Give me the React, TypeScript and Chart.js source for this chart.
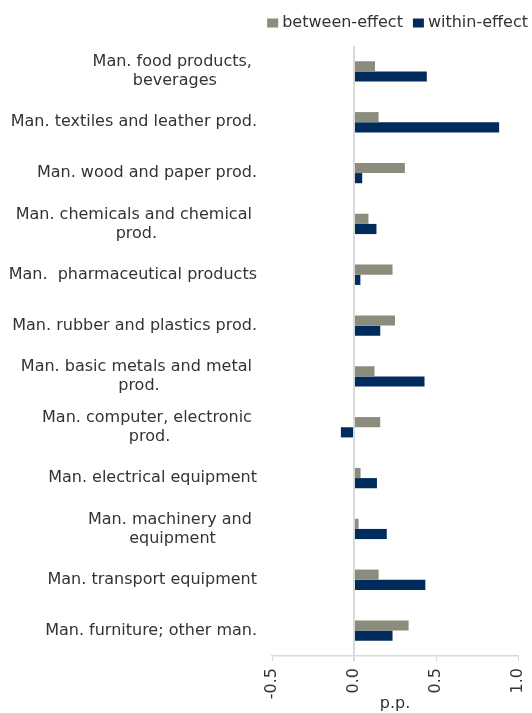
import { useEffect, useRef } from "react"
import Chart from "chart.js/auto"

// ── Data ─────────────────────────────────────────────────────
const CATEGORIES: string[][] = [
  ["Man. food products, ", "beverages"],
  ["Man. textiles and leather prod."],
  ["Man. wood and paper prod."],
  ["Man. chemicals and chemical ", "prod."],
  ["Man.  pharmaceutical products"],
  ["Man. rubber and plastics prod."],
  ["Man. basic metals and metal ", "prod."],
  ["Man. computer, electronic ", "prod."],
  ["Man. electrical equipment"],
  ["Man. machinery and ", "equipment"],
  ["Man. transport equipment"],
  ["Man. furniture; other man."],
]
const BETWEEN = [0.128, 0.15, 0.31, 0.088, 0.235, 0.25, 0.125, 0.16, 0.04, 0.028, 0.15, 0.333]
const WITHIN  = [0.444, 0.885, 0.05, 0.137, 0.039, 0.16, 0.43, -0.08, 0.14, 0.2, 0.435, 0.235]
const X_MIN = -0.5
const X_MAX = 1.0
const X_STEP = 0.5

// ── Style ────────────────────────────────────────────────────
const GREY  = "#8c8c7c"
const NAVY  = "#002c5d"
const TEXT  = "#333333"
const AXIS  = "#d9d9d9"
const FONT  = "'DejaVu Sans', Verdana, sans-serif"
const SIZE  = 16

// category labels: right-aligned block, lines centred within it (Excel-style wrap)
const yLabelPlugin = {
  id: "yLabels",
  afterDraw(chart: any) {
    const { ctx, chartArea } = chart
    const y = chart.scales.y
    ctx.save()
    ctx.font = `${SIZE}px ${FONT}`
    ctx.fillStyle = TEXT
    ctx.textAlign = "center"
    ctx.textBaseline = "middle"
    const right = chartArea.left - 15
    const lineH = 19
    CATEGORIES.forEach((lines, i) => {
      const cy = y.getPixelForValue(i)
      const block = Math.max(...lines.map(l => ctx.measureText(l).width))
      const top = cy - ((lines.length - 1) * lineH) / 2
      lines.forEach((l, j) => ctx.fillText(l, right - block / 2, top + j * lineH))
    })
    ctx.restore()
  },
}

// legend: top right, tight box/text spacing
const legendPlugin = {
  id: "tightLegend",
  afterDraw(chart: any) {
    const { ctx } = chart
    const items = chart.data.datasets.map((d: any) => ({ text: d.label, color: d.backgroundColor }))
    ctx.save()
    ctx.font = `${SIZE}px ${FONT}`
    ctx.textBaseline = "middle"
    ctx.textAlign = "left"
    let x = chart.width - 4
    const cy = 23
    for (let i = items.length - 1; i >= 0; i--) {
      const it = items[i]
      const w = ctx.measureText(it.text).width
      x -= w
      ctx.fillStyle = TEXT
      ctx.fillText(it.text, x, cy)
      x -= 4 + 11
      ctx.fillStyle = it.color
      ctx.fillRect(x, cy - 4.5, 11, 9)
      x -= 10
    }
    ctx.restore()
  },
}

export default function App() {
  const ref = useRef<HTMLCanvasElement>(null)

  useEffect(() => {
    document.body.style.margin = "0"
    if (!ref.current) return

    const chart = new Chart(ref.current, {
      type: "bar",
      data: {
        labels: CATEGORIES.map(c => c.join("")),
        datasets: [
          {
            label: "between-effect",
            data: BETWEEN,
            backgroundColor: GREY,
            borderWidth: 0,
            categoryPercentage: 0.4,
            barPercentage: 1,
          },
          {
            label: "within-effect",
            data: WITHIN,
            backgroundColor: NAVY,
            borderWidth: 0,
            categoryPercentage: 0.4,
            barPercentage: 1,
          },
        ],
      },
      options: {
        indexAxis: "y" as const,
        responsive: false,
        animation: false,
        layout: { padding: { top: 46, right: 4, left: 0, bottom: 0 } },
        plugins: {
          legend: { display: false },
          tooltip: { enabled: false },
        },
        scales: {
          x: {
            min: X_MIN,
            max: X_MAX,
            ticks: {
              stepSize: X_STEP,
              color: TEXT,
              font: { family: FONT, size: SIZE },
              minRotation: 90,
              maxRotation: 90,
              padding: 7,
              callback: (v: any) => Number(v).toFixed(1),
            },
            grid: {
              color: (c: any) => (c.tick && c.tick.value === 0 ? AXIS : "transparent"),
              lineWidth: (c: any) => (c.tick && c.tick.value === 0 ? 2 : 1),
              tickColor: AXIS,
              tickLength: 5,
            },
            border: { color: AXIS, width: 1.5 },
            title: {
              display: true,
              text: "p.p.",
              color: TEXT,
              font: { family: FONT, size: SIZE },
              padding: { top: 0, bottom: 0 },
            },
            afterFit: (s: any) => {
              s.height = 57
              s.paddingLeft = 0
              s.paddingRight = 14
            },
          },
          y: {
            ticks: { display: false },
            grid: { display: false },
            border: { display: false },
            afterFit: (s: any) => { s.width = 272 },
          },
        },
      },
      plugins: [yLabelPlugin, legendPlugin],
    })

    return () => chart.destroy()
  }, [])

  return (
    <div style={{ width: 532, height: 713, background: "#fff" }}>
      <canvas ref={ref} width={532} height={713} />
    </div>
  )
}
